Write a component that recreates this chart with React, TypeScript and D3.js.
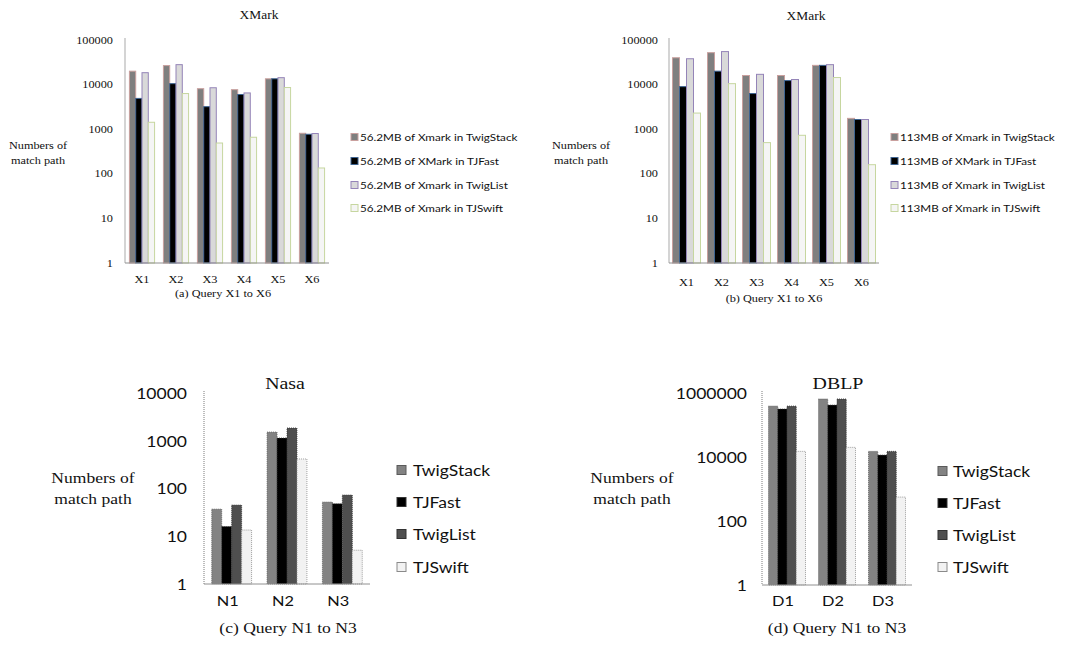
import React from 'react';
import * as d3 from 'd3';

// ---------- data ----------
const algorithms = ['TwigStack', 'TJFast', 'TwigList', 'TJSwift'];
const xmarkCategories = ['X1', 'X2', 'X3', 'X4', 'X5', 'X6'];
const nasaCategories = ['N1', 'N2', 'N3'];
const dblpCategories = ['D1', 'D2', 'D3'];

const xmark56TwigStack = [20000, 26700, 8100, 7700, 13500, 810];
const xmark56TJFast = [4900, 10500, 3200, 6000, 13500, 770];
const xmark56TwigList = [18500, 28000, 8500, 6500, 14300, 800];
const xmark56TJSwift = [1430, 6300, 490, 660, 8600, 135];

const xmark113TwigStack = [40000, 52000, 16000, 16000, 27000, 1750];
const xmark113TJFast = [9000, 20000, 6300, 12300, 27000, 1650];
const xmark113TwigList = [38000, 55000, 17000, 13000, 28000, 1650];
const xmark113TJSwift = [2300, 10500, 500, 730, 14400, 160];

const nasaTwigStack = [37, 1520, 52];
const nasaTJFast = [16, 1140, 48];
const nasaTwigList = [45, 1850, 73];
const nasaTJSwift = [13.5, 415, 5.1];

const dblpTwigStack = [390000, 650000, 15000];
const dblpTJFast = [316000, 420000, 11500];
const dblpTwigList = [390000, 650000, 15000];
const dblpTJSwift = [15000, 20000, 560];

const xmarkTicks = [1, 10, 100, 1000, 10000, 100000];
const nasaTicks = [1, 10, 100, 1000, 10000];
const dblpTicks = [1, 100, 10000, 1000000];

const xmark56Legend = [
  '56.2MB of Xmark in TwigStack',
  '56.2MB of XMark in TJFast',
  '56.2MB of Xmark in TwigList',
  '56.2MB of Xmark in TJSwift',
];
const xmark113Legend = [
  '113MB of Xmark in TwigStack',
  '113MB of XMark in TJFast',
  '113MB of Xmark in TwigList',
  '113MB of Xmark in TJSwift',
];

// ---------- styles ----------
const SERIF = '"Liberation Serif", "DejaVu Serif", serif';
const SANS = 'Lato, "Open Sans", sans-serif';
const SX = 1.17;

const topFills = ['#7f7f7f', '#000000', '#d9d9d9', '#f5f5f5'];
const topStrokes = ['#c9a09e', '#3d6390', '#9484b8', '#c6d69f'];
const botFills = ['#838383', '#000000', '#4f4f4f', '#f2f2f2'];
const botStrokes = ['#5a5a5a', '#333333', '#333333', '#8a8a8a'];

function Label({ x, y, anchor = 'middle', size, family, children }: any) {
  return (
    <text
      transform={`translate(${x},${y}) scale(${SX},1)`}
      textAnchor={anchor}
      fontSize={size}
      fontFamily={family}
      fill="#111"
      dominantBaseline="central"
    >
      {children}
    </text>
  );
}

function BarChart({ cfg, categories, series, ticks, legend, fills, strokes }: any) {
  const x = d3
    .scaleBand<string>()
    .domain(categories)
    .range([cfg.left, cfg.right])
    .paddingInner(cfg.pad)
    .paddingOuter(cfg.pad / 2);
  const xs = d3.scaleBand<string>().domain(algorithms).range([0, x.bandwidth()]);
  const y = d3
    .scaleLog()
    .domain([ticks[0], ticks[ticks.length - 1]])
    .range([cfg.bottom, cfg.top]);

  return (
    <g>
      <Label x={cfg.titleX} y={cfg.titleY} size={cfg.titleSize} family={SERIF}>
        {cfg.title}
      </Label>
      {cfg.yLabel.map((t: string, i: number) => (
        <Label key={t} x={cfg.yLabelX} y={cfg.yLabelY[i]} size={cfg.yLabelSize} family={SERIF}>
          {t}
        </Label>
      ))}
      {ticks.map((t: number) => (
        <Label key={t} x={cfg.tickX} y={y(t)} anchor="end" size={cfg.tickSize} family={cfg.tickFamily}>
          {String(t)}
        </Label>
      ))}
      {series.map((vals: number[], si: number) =>
        vals.map((v, ci) => {
          const cat = categories[ci];
          const yv = y(v);
          return (
            <rect
              key={`${si}-${ci}`}
              x={(x(cat) as number) + (xs(algorithms[si]) as number)}
              y={yv}
              width={xs.bandwidth()}
              height={cfg.bottom - yv}
              fill={fills[si]}
              stroke={strokes[si]}
              strokeWidth={cfg.barStroke}
              strokeDasharray={cfg.barDash}
            />
          );
        })
      )}
      <line
        x1={cfg.left}
        x2={cfg.left}
        y1={cfg.top - 2}
        y2={cfg.bottom}
        stroke={cfg.yAxisColor}
        strokeWidth={cfg.yAxisWidth}
        strokeDasharray={cfg.yAxisDash}
      />
      <line x1={cfg.left} x2={cfg.right} y1={cfg.bottom} y2={cfg.bottom} stroke="#909090" strokeWidth={1} />
      {categories.map((c: string) => (
        <Label
          key={c}
          x={(x(c) as number) + x.bandwidth() / 2 + cfg.catDx}
          y={cfg.catY}
          size={cfg.catSize}
          family={cfg.catFamily}
        >
          {c}
        </Label>
      ))}
      <Label x={cfg.capX} y={cfg.capY} size={cfg.capSize} family={SERIF}>
        {cfg.caption}
      </Label>
      {legend.map((t: string, i: number) => (
        <g key={t}>
          <rect
            x={cfg.legX}
            y={cfg.legY[i] - cfg.legSq / 2}
            width={cfg.legSq}
            height={cfg.legSq}
            fill={fills[i]}
            stroke={strokes[i]}
            strokeWidth={1}
          />
          <Label x={cfg.legTextX} y={cfg.legY[i]} anchor="start" size={cfg.legSize} family={SANS}>
            {t}
          </Label>
        </g>
      ))}
    </g>
  );
}

const topBase = {
  top: 40,
  bottom: 263,
  titleSize: 11.5,
  yLabel: ['Numbers of', 'match path'],
  yLabelY: [145, 160],
  yLabelSize: 10.5,
  tickSize: 10.5,
  tickFamily: SERIF,
  barStroke: 1,
  barDash: undefined,
  yAxisColor: '#d4d4d4',
  yAxisWidth: 2,
  yAxisDash: undefined,
  catSize: 10.5,
  catFamily: SERIF,
  catDx: 0,
  capSize: 10.5,
  legSq: 7,
  legY: [137, 161, 185, 208],
  legSize: 10,
};

const cfgA = {
  ...topBase,
  left: 125,
  right: 329,
  pad: 0.26,
  title: 'XMark',
  titleX: 259,
  titleY: 15,
  yLabelX: 38,
  tickX: 113,
  catY: 279,
  caption: '(a) Query X1 to X6',
  capX: 223,
  capY: 293,
  legX: 351,
  legTextX: 360,
};

const cfgB = {
  ...topBase,
  left: 669,
  right: 879,
  pad: 0.2,
  title: 'XMark',
  titleX: 806,
  titleY: 16,
  yLabelX: 581,
  tickX: 658,
  catY: 282,
  caption: '(b) Query X1 to X6',
  capX: 774,
  capY: 298,
  legX: 891,
  legTextX: 900,
};

const botBase = {
  titleSize: 17,
  yLabel: ['Numbers of', 'match path'],
  yLabelY: [478, 499],
  yLabelSize: 15,
  tickSize: 15,
  tickFamily: SANS,
  barStroke: 0.8,
  barDash: '1,1',
  yAxisColor: '#a8a8a8',
  yAxisWidth: 1.5,
  yAxisDash: '1,1',
  catSize: 14,
  catFamily: SANS,
  catDx: -4,
  capSize: 15,
  legSq: 9,
  legSize: 15,
  titleY: 383,
  catY: 600,
  capY: 628,
};

const cfgC = {
  ...botBase,
  left: 204,
  right: 370,
  top: 393,
  bottom: 584,
  pad: 0.28,
  title: 'Nasa',
  titleX: 285,
  yLabelX: 93,
  tickX: 187,
  caption: '(c) Query N1 to N3',
  capX: 288,
  legX: 397,
  legTextX: 413,
  legY: [470, 502, 534, 567],
};

const cfgD = {
  ...botBase,
  left: 762,
  right: 912,
  top: 393,
  bottom: 585,
  pad: 0.26,
  title: 'DBLP',
  titleX: 838,
  yLabelX: 632,
  tickX: 747,
  caption: '(d) Query N1 to N3',
  capX: 837,
  legX: 938,
  legTextX: 953,
  legY: [471, 503, 535, 567],
};

export default function App() {
  return (
    <svg
      width={1073}
      height={646}
      style={{ position: 'absolute', left: 0, top: 0, background: '#fff' }}
    >
      <rect width={1073} height={646} fill="#fff" />
      <BarChart
        cfg={cfgA}
        categories={xmarkCategories}
        series={[xmark56TwigStack, xmark56TJFast, xmark56TwigList, xmark56TJSwift]}
        ticks={xmarkTicks}
        legend={xmark56Legend}
        fills={topFills}
        strokes={topStrokes}
      />
      <BarChart
        cfg={cfgB}
        categories={xmarkCategories}
        series={[xmark113TwigStack, xmark113TJFast, xmark113TwigList, xmark113TJSwift]}
        ticks={xmarkTicks}
        legend={xmark113Legend}
        fills={topFills}
        strokes={topStrokes}
      />
      <BarChart
        cfg={cfgC}
        categories={nasaCategories}
        series={[nasaTwigStack, nasaTJFast, nasaTwigList, nasaTJSwift]}
        ticks={nasaTicks}
        legend={algorithms}
        fills={botFills}
        strokes={botStrokes}
      />
      <BarChart
        cfg={cfgD}
        categories={dblpCategories}
        series={[dblpTwigStack, dblpTJFast, dblpTwigList, dblpTJSwift]}
        ticks={dblpTicks}
        legend={algorithms}
        fills={botFills}
        strokes={botStrokes}
      />
    </svg>
  );
}
